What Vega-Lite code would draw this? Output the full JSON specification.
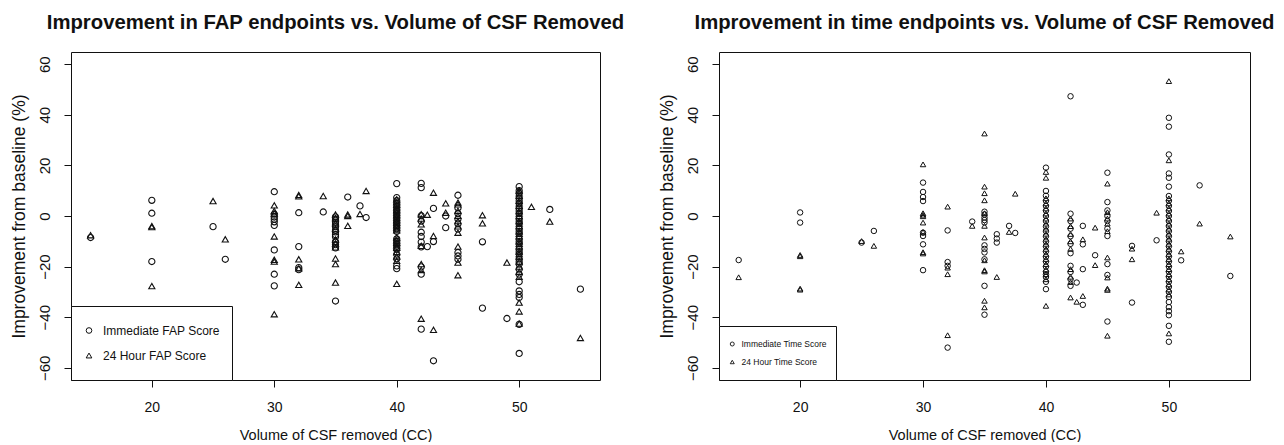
{
"$schema": "https://vega.github.io/schema/vega-lite/v6.json",
"padding": {"left": 9, "top": 12, "right": 0, "bottom": 0},
"spacing": 32,
"config": {
 "font": "Liberation Sans",
 "view": {"stroke": "#111", "strokeWidth": 1},
 "axis": {"grid": false, "domain": false, "tickColor": "#111", "tickSize": 7, "labelColor": "#111", "titleColor": "#111", "titleFontWeight": "normal"},
 "title": {"fontSize": 20.3, "fontWeight": "bold", "anchor": "middle", "color": "#111", "offset": 19}
},
"resolve": {"scale": {"shape": "independent"}, "legend": {"shape": "independent"}},
"datasets": {
"fap": [
{"x":15,"y":-8.5,"s":"I"},{"x":15,"y":-7.6,"s":"H"},
{"x":20,"y":6.2,"s":"I"},{"x":20,"y":1.1,"s":"I"},{"x":20,"y":-18,"s":"I"},{"x":20,"y":-4,"s":"H"},{"x":20,"y":-4.4,"s":"H"},{"x":20,"y":-27.7,"s":"H"},
{"x":25,"y":-4.2,"s":"I"},{"x":25,"y":5.9,"s":"H"},
{"x":26,"y":-17.1,"s":"I"},{"x":26,"y":-9.2,"s":"H"},
{"x":30,"y":9.6,"s":"I"},{"x":30,"y":0.7,"s":"I"},{"x":30,"y":-0.4,"s":"I"},{"x":30,"y":-1.3,"s":"I"},{"x":30,"y":-2.3,"s":"I"},{"x":30,"y":-3.7,"s":"I"},{"x":30,"y":-13.4,"s":"I"},{"x":30,"y":-23,"s":"I"},{"x":30,"y":-27.6,"s":"I"},
{"x":30,"y":4.2,"s":"H"},{"x":30,"y":2,"s":"H"},{"x":30,"y":1,"s":"H"},{"x":30,"y":-8.1,"s":"H"},{"x":30,"y":-17.3,"s":"H"},{"x":30,"y":-18,"s":"H"},{"x":30,"y":-38.8,"s":"H"},
{"x":32,"y":1.3,"s":"I"},{"x":32,"y":-12.1,"s":"I"},{"x":32,"y":-20.4,"s":"I"},{"x":32,"y":-21.2,"s":"I"},
{"x":32,"y":8.3,"s":"H"},{"x":32,"y":7.8,"s":"H"},{"x":32,"y":-17.1,"s":"H"},{"x":32,"y":-20.7,"s":"H"},{"x":32,"y":-27.2,"s":"H"},
{"x":34,"y":1.6,"s":"I"},{"x":34,"y":7.9,"s":"H"},
{"x":35,"y":-0.3,"s":"I"},{"x":35,"y":-1.2,"s":"I"},{"x":35,"y":-2.4,"s":"I"},{"x":35,"y":-3.3,"s":"I"},{"x":35,"y":-4.2,"s":"I"},{"x":35,"y":-5.6,"s":"I"},{"x":35,"y":-6.3,"s":"I"},{"x":35,"y":-7.4,"s":"I"},{"x":35,"y":-8.2,"s":"I"},{"x":35,"y":-10.1,"s":"I"},{"x":35,"y":-11.3,"s":"I"},{"x":35,"y":-12.6,"s":"I"},{"x":35,"y":-33.6,"s":"I"},
{"x":35,"y":0.6,"s":"H"},{"x":35,"y":-0.8,"s":"H"},{"x":35,"y":-2.8,"s":"H"},{"x":35,"y":-5,"s":"H"},{"x":35,"y":-9.3,"s":"H"},{"x":35,"y":-10.9,"s":"H"},{"x":35,"y":-12.4,"s":"H"},{"x":35,"y":-16.8,"s":"H"},{"x":35,"y":-19,"s":"H"},{"x":35,"y":-26.3,"s":"H"},
{"x":36,"y":7.5,"s":"I"},{"x":36,"y":0.6,"s":"H"},{"x":36,"y":0,"s":"H"},{"x":36,"y":-3.9,"s":"H"},
{"x":37,"y":4,"s":"I"},{"x":37,"y":0.8,"s":"H"},
{"x":37.5,"y":-0.6,"s":"I"},{"x":37.5,"y":9.9,"s":"H"},
{"x":40,"y":12.8,"s":"I"},{"x":40,"y":7.3,"s":"I"},{"x":40,"y":6.1,"s":"I"},{"x":40,"y":5,"s":"I"},{"x":40,"y":3.9,"s":"I"},{"x":40,"y":2.8,"s":"I"},{"x":40,"y":1.8,"s":"I"},{"x":40,"y":0.9,"s":"I"},{"x":40,"y":-0.2,"s":"I"},{"x":40,"y":-1.1,"s":"I"},{"x":40,"y":-2.2,"s":"I"},{"x":40,"y":-3.1,"s":"I"},{"x":40,"y":-4,"s":"I"},{"x":40,"y":-5,"s":"I"},{"x":40,"y":-6.1,"s":"I"},{"x":40,"y":-9,"s":"I"},{"x":40,"y":-10,"s":"I"},{"x":40,"y":-11.1,"s":"I"},{"x":40,"y":-12,"s":"I"},{"x":40,"y":-13.2,"s":"I"},{"x":40,"y":-15.1,"s":"I"},{"x":40,"y":-16.9,"s":"I"},{"x":40,"y":-19.7,"s":"I"},{"x":40,"y":-20.8,"s":"I"},
{"x":40,"y":6.6,"s":"H"},{"x":40,"y":5.5,"s":"H"},{"x":40,"y":4.4,"s":"H"},{"x":40,"y":3.4,"s":"H"},{"x":40,"y":2.4,"s":"H"},{"x":40,"y":1.4,"s":"H"},{"x":40,"y":0.4,"s":"H"},{"x":40,"y":-0.6,"s":"H"},{"x":40,"y":-1.6,"s":"H"},{"x":40,"y":-2.6,"s":"H"},{"x":40,"y":-3.6,"s":"H"},{"x":40,"y":-4.6,"s":"H"},{"x":40,"y":-5.6,"s":"H"},{"x":40,"y":-8.5,"s":"H"},{"x":40,"y":-9.6,"s":"H"},{"x":40,"y":-10.6,"s":"H"},{"x":40,"y":-11.6,"s":"H"},{"x":40,"y":-12.6,"s":"H"},{"x":40,"y":-14.2,"s":"H"},{"x":40,"y":-16,"s":"H"},{"x":40,"y":-17.7,"s":"H"},{"x":40,"y":-26.8,"s":"H"},
{"x":42,"y":12.9,"s":"I"},{"x":42,"y":11.2,"s":"I"},{"x":42,"y":0.1,"s":"I"},{"x":42,"y":-2,"s":"I"},{"x":42,"y":-6.4,"s":"I"},{"x":42,"y":-8.1,"s":"I"},{"x":42,"y":-10.3,"s":"I"},{"x":42,"y":-12.2,"s":"I"},{"x":42,"y":-20.1,"s":"I"},{"x":42,"y":-23,"s":"I"},{"x":42,"y":-44.7,"s":"I"},
{"x":42,"y":0.7,"s":"H"},{"x":42,"y":-1,"s":"H"},{"x":42,"y":-3.3,"s":"H"},{"x":42,"y":-11.8,"s":"H"},{"x":42,"y":-19,"s":"H"},{"x":42,"y":-21.3,"s":"H"},{"x":42,"y":-40.6,"s":"H"},
{"x":42.5,"y":-12.1,"s":"I"},{"x":42.5,"y":0.5,"s":"H"},
{"x":43,"y":3,"s":"I"},{"x":43,"y":-10.1,"s":"I"},{"x":43,"y":-57.2,"s":"I"},{"x":43,"y":9.2,"s":"H"},{"x":43,"y":-7.9,"s":"H"},{"x":43,"y":-45,"s":"H"},
{"x":44,"y":0,"s":"I"},{"x":44,"y":-4.6,"s":"I"},{"x":44,"y":5,"s":"H"},{"x":44,"y":1.3,"s":"H"},
{"x":45,"y":8.2,"s":"I"},{"x":45,"y":3.2,"s":"I"},{"x":45,"y":1,"s":"I"},{"x":45,"y":-1.2,"s":"I"},{"x":45,"y":-3.1,"s":"I"},{"x":45,"y":-5.2,"s":"I"},{"x":45,"y":-14.4,"s":"I"},{"x":45,"y":-15.8,"s":"I"},{"x":45,"y":-17.1,"s":"I"},
{"x":45,"y":5.3,"s":"H"},{"x":45,"y":4.6,"s":"H"},{"x":45,"y":2.1,"s":"H"},{"x":45,"y":0.1,"s":"H"},{"x":45,"y":-2,"s":"H"},{"x":45,"y":-4.1,"s":"H"},{"x":45,"y":-6.6,"s":"H"},{"x":45,"y":-12.1,"s":"H"},{"x":45,"y":-18.4,"s":"H"},{"x":45,"y":-23.4,"s":"H"},
{"x":47,"y":-10.2,"s":"I"},{"x":47,"y":-36.4,"s":"I"},{"x":47,"y":0.3,"s":"H"},{"x":47,"y":-2.9,"s":"H"},
{"x":49,"y":-40.5,"s":"I"},{"x":49,"y":-18.4,"s":"H"},
{"x":50,"y":11.6,"s":"I"},{"x":50,"y":10,"s":"I"},{"x":50,"y":9,"s":"I"},{"x":50,"y":7.1,"s":"I"},{"x":50,"y":6,"s":"I"},{"x":50,"y":5,"s":"I"},{"x":50,"y":3.1,"s":"I"},{"x":50,"y":2,"s":"I"},{"x":50,"y":1,"s":"I"},{"x":50,"y":-1,"s":"I"},{"x":50,"y":-2.1,"s":"I"},{"x":50,"y":-3,"s":"I"},{"x":50,"y":-5,"s":"I"},{"x":50,"y":-6.1,"s":"I"},{"x":50,"y":-7,"s":"I"},{"x":50,"y":-9,"s":"I"},{"x":50,"y":-10.1,"s":"I"},{"x":50,"y":-11,"s":"I"},{"x":50,"y":-13,"s":"I"},{"x":50,"y":-14.1,"s":"I"},{"x":50,"y":-15,"s":"I"},{"x":50,"y":-17,"s":"I"},{"x":50,"y":-18.1,"s":"I"},{"x":50,"y":-19,"s":"I"},{"x":50,"y":-21,"s":"I"},{"x":50,"y":-23,"s":"I"},{"x":50,"y":-26,"s":"I"},{"x":50,"y":-29.6,"s":"I"},{"x":50,"y":-31,"s":"I"},{"x":50,"y":-32.2,"s":"I"},{"x":50,"y":-42.8,"s":"I"},{"x":50,"y":-54.3,"s":"I"},
{"x":50,"y":10.1,"s":"H"},{"x":50,"y":9,"s":"H"},{"x":50,"y":8,"s":"H"},{"x":50,"y":6,"s":"H"},{"x":50,"y":5,"s":"H"},{"x":50,"y":4,"s":"H"},{"x":50,"y":2,"s":"H"},{"x":50,"y":1,"s":"H"},{"x":50,"y":0,"s":"H"},{"x":50,"y":-2,"s":"H"},{"x":50,"y":-3,"s":"H"},{"x":50,"y":-4,"s":"H"},{"x":50,"y":-6,"s":"H"},{"x":50,"y":-7,"s":"H"},{"x":50,"y":-8,"s":"H"},{"x":50,"y":-10,"s":"H"},{"x":50,"y":-11,"s":"H"},{"x":50,"y":-12,"s":"H"},{"x":50,"y":-14,"s":"H"},{"x":50,"y":-15,"s":"H"},{"x":50,"y":-16,"s":"H"},{"x":50,"y":-18,"s":"H"},{"x":50,"y":-20,"s":"H"},{"x":50,"y":-22,"s":"H"},{"x":50,"y":-24,"s":"H"},{"x":50,"y":-34.2,"s":"H"},{"x":50,"y":-37.7,"s":"H"},{"x":50,"y":-42.5,"s":"H"},
{"x":51,"y":3.6,"s":"H"},
{"x":52.5,"y":2.6,"s":"I"},{"x":52.5,"y":-2.2,"s":"H"},
{"x":55,"y":-28.9,"s":"I"},{"x":55,"y":-48.2,"s":"H"}
],
"time": [
{"x":15,"y":-17.4,"s":"I"},{"x":15,"y":-24.2,"s":"H"},
{"x":20,"y":1.4,"s":"I"},{"x":20,"y":-2.6,"s":"I"},{"x":20,"y":-15.4,"s":"H"},{"x":20,"y":-15.9,"s":"H"},{"x":20,"y":-28.7,"s":"H"},{"x":20,"y":-29.1,"s":"H"},
{"x":25,"y":-10.5,"s":"I"},{"x":25,"y":-9.9,"s":"H"},
{"x":26,"y":-5.9,"s":"I"},{"x":26,"y":-11.8,"s":"H"},
{"x":30,"y":13.2,"s":"I"},{"x":30,"y":9.5,"s":"I"},{"x":30,"y":7.5,"s":"I"},{"x":30,"y":5.9,"s":"I"},{"x":30,"y":-6.6,"s":"I"},{"x":30,"y":-7.9,"s":"I"},{"x":30,"y":-11.2,"s":"I"},{"x":30,"y":-21.4,"s":"I"},
{"x":30,"y":20.4,"s":"H"},{"x":30,"y":1.1,"s":"H"},{"x":30,"y":0.5,"s":"H"},{"x":30,"y":-0.1,"s":"H"},{"x":30,"y":-2.6,"s":"H"},{"x":30,"y":-6.3,"s":"H"},{"x":30,"y":-14.3,"s":"H"},{"x":30,"y":-14.8,"s":"H"},
{"x":32,"y":-5.7,"s":"I"},{"x":32,"y":-18.2,"s":"I"},{"x":32,"y":-19.7,"s":"I"},{"x":32,"y":-52,"s":"I"},{"x":32,"y":3.7,"s":"H"},{"x":32,"y":-20.4,"s":"H"},{"x":32,"y":-23,"s":"H"},{"x":32,"y":-47.1,"s":"H"},
{"x":34,"y":-2.2,"s":"I"},{"x":34,"y":-3.9,"s":"H"},
{"x":35,"y":1.7,"s":"I"},{"x":35,"y":0.6,"s":"I"},{"x":35,"y":-0.6,"s":"I"},{"x":35,"y":-1.6,"s":"I"},{"x":35,"y":-2.6,"s":"I"},{"x":35,"y":-11.6,"s":"I"},{"x":35,"y":-13,"s":"I"},{"x":35,"y":-14.4,"s":"I"},{"x":35,"y":-17.1,"s":"I"},{"x":35,"y":-27.6,"s":"I"},{"x":35,"y":-39,"s":"I"},
{"x":35,"y":32.6,"s":"H"},{"x":35,"y":11.6,"s":"H"},{"x":35,"y":9,"s":"H"},{"x":35,"y":6.2,"s":"H"},{"x":35,"y":1.1,"s":"H"},{"x":35,"y":-3.9,"s":"H"},{"x":35,"y":-8.5,"s":"H"},{"x":35,"y":-17.5,"s":"H"},{"x":35,"y":-21.4,"s":"H"},{"x":35,"y":-21.9,"s":"H"},{"x":35,"y":-33.5,"s":"H"},{"x":35,"y":-36.1,"s":"H"},
{"x":36,"y":-7.2,"s":"I"},{"x":36,"y":-8.9,"s":"I"},{"x":36,"y":-10.5,"s":"I"},{"x":36,"y":-24.1,"s":"H"},
{"x":37,"y":-3.9,"s":"I"},{"x":37,"y":-6.3,"s":"H"},
{"x":37.5,"y":-6.7,"s":"I"},{"x":37.5,"y":8.8,"s":"H"},
{"x":40,"y":19.1,"s":"I"},{"x":40,"y":9.9,"s":"I"},{"x":40,"y":8,"s":"I"},{"x":40,"y":6,"s":"I"},{"x":40,"y":4,"s":"I"},{"x":40,"y":2.1,"s":"I"},{"x":40,"y":0,"s":"I"},{"x":40,"y":-2,"s":"I"},{"x":40,"y":-4.1,"s":"I"},{"x":40,"y":-6,"s":"I"},{"x":40,"y":-8,"s":"I"},{"x":40,"y":-10.1,"s":"I"},{"x":40,"y":-12,"s":"I"},{"x":40,"y":-14,"s":"I"},{"x":40,"y":-16.1,"s":"I"},{"x":40,"y":-18,"s":"I"},{"x":40,"y":-20,"s":"I"},{"x":40,"y":-22,"s":"I"},{"x":40,"y":-23.1,"s":"I"},{"x":40,"y":-24.1,"s":"I"},{"x":40,"y":-26,"s":"I"},{"x":40,"y":-28.9,"s":"I"},
{"x":40,"y":17.4,"s":"H"},{"x":40,"y":15.1,"s":"H"},{"x":40,"y":7,"s":"H"},{"x":40,"y":5,"s":"H"},{"x":40,"y":3,"s":"H"},{"x":40,"y":1,"s":"H"},{"x":40,"y":-1,"s":"H"},{"x":40,"y":-3,"s":"H"},{"x":40,"y":-5,"s":"H"},{"x":40,"y":-7,"s":"H"},{"x":40,"y":-9,"s":"H"},{"x":40,"y":-11,"s":"H"},{"x":40,"y":-13,"s":"H"},{"x":40,"y":-15,"s":"H"},{"x":40,"y":-17,"s":"H"},{"x":40,"y":-19,"s":"H"},{"x":40,"y":-21.1,"s":"H"},{"x":40,"y":-23,"s":"H"},{"x":40,"y":-25,"s":"H"},{"x":40,"y":-35.5,"s":"H"},
{"x":42,"y":47.3,"s":"I"},{"x":42,"y":0.9,"s":"I"},{"x":42,"y":-2,"s":"I"},{"x":42,"y":-5,"s":"I"},{"x":42,"y":-8,"s":"I"},{"x":42,"y":-11,"s":"I"},{"x":42,"y":-14.7,"s":"I"},{"x":42,"y":-19.7,"s":"I"},{"x":42,"y":-22.1,"s":"I"},{"x":42,"y":-25,"s":"I"},{"x":42,"y":-27.6,"s":"I"},
{"x":42,"y":-1,"s":"H"},{"x":42,"y":-4,"s":"H"},{"x":42,"y":-7.1,"s":"H"},{"x":42,"y":-10,"s":"H"},{"x":42,"y":-13,"s":"H"},{"x":42,"y":-21,"s":"H"},{"x":42,"y":-24,"s":"H"},{"x":42,"y":-26.1,"s":"H"},{"x":42,"y":-32.2,"s":"H"},
{"x":42.5,"y":-26.3,"s":"I"},{"x":42.5,"y":-33.9,"s":"H"},
{"x":43,"y":-3.9,"s":"I"},{"x":43,"y":-11.2,"s":"I"},{"x":43,"y":-21,"s":"I"},{"x":43,"y":-35.1,"s":"I"},{"x":43,"y":-9.2,"s":"H"},{"x":43,"y":-31.6,"s":"H"},
{"x":44,"y":-15.5,"s":"I"},{"x":44,"y":-4.6,"s":"H"},{"x":44,"y":-19.4,"s":"H"},
{"x":45,"y":17.1,"s":"I"},{"x":45,"y":5.5,"s":"I"},{"x":45,"y":2.2,"s":"I"},{"x":45,"y":0,"s":"I"},{"x":45,"y":-2,"s":"I"},{"x":45,"y":-5,"s":"I"},{"x":45,"y":-7.9,"s":"I"},{"x":45,"y":-19,"s":"I"},{"x":45,"y":-23.3,"s":"I"},{"x":45,"y":-41.7,"s":"I"},
{"x":45,"y":12.8,"s":"H"},{"x":45,"y":1.5,"s":"H"},{"x":45,"y":-1,"s":"H"},{"x":45,"y":-3,"s":"H"},{"x":45,"y":-6,"s":"H"},{"x":45,"y":-16.4,"s":"H"},{"x":45,"y":-24.3,"s":"H"},{"x":45,"y":-28.7,"s":"H"},{"x":45,"y":-29.2,"s":"H"},{"x":45,"y":-47.3,"s":"H"},
{"x":47,"y":-11.8,"s":"I"},{"x":47,"y":-34.2,"s":"I"},{"x":47,"y":-12.9,"s":"H"},{"x":47,"y":-17.1,"s":"H"},
{"x":49,"y":-9.6,"s":"I"},{"x":49,"y":1.3,"s":"H"},
{"x":50,"y":38.8,"s":"I"},{"x":50,"y":35.3,"s":"I"},{"x":50,"y":24.3,"s":"I"},{"x":50,"y":16.8,"s":"I"},{"x":50,"y":15.1,"s":"I"},{"x":50,"y":11.6,"s":"I"},{"x":50,"y":7.9,"s":"I"},{"x":50,"y":6,"s":"I"},{"x":50,"y":4,"s":"I"},{"x":50,"y":2,"s":"I"},{"x":50,"y":0,"s":"I"},{"x":50,"y":-2,"s":"I"},{"x":50,"y":-4,"s":"I"},{"x":50,"y":-6,"s":"I"},{"x":50,"y":-8,"s":"I"},{"x":50,"y":-10,"s":"I"},{"x":50,"y":-12,"s":"I"},{"x":50,"y":-14,"s":"I"},{"x":50,"y":-16,"s":"I"},{"x":50,"y":-18,"s":"I"},{"x":50,"y":-20,"s":"I"},{"x":50,"y":-22,"s":"I"},{"x":50,"y":-24,"s":"I"},{"x":50,"y":-26,"s":"I"},{"x":50,"y":-28,"s":"I"},{"x":50,"y":-30,"s":"I"},{"x":50,"y":-32,"s":"I"},{"x":50,"y":-34,"s":"I"},{"x":50,"y":-36,"s":"I"},{"x":50,"y":-37.6,"s":"I"},{"x":50,"y":-39.2,"s":"I"},{"x":50,"y":-43.4,"s":"I"},{"x":50,"y":-49.7,"s":"I"},
{"x":50,"y":53.3,"s":"H"},{"x":50,"y":22,"s":"H"},{"x":50,"y":7,"s":"H"},{"x":50,"y":5,"s":"H"},{"x":50,"y":3,"s":"H"},{"x":50,"y":1,"s":"H"},{"x":50,"y":-1,"s":"H"},{"x":50,"y":-3,"s":"H"},{"x":50,"y":-5,"s":"H"},{"x":50,"y":-7,"s":"H"},{"x":50,"y":-9,"s":"H"},{"x":50,"y":-11,"s":"H"},{"x":50,"y":-13,"s":"H"},{"x":50,"y":-15,"s":"H"},{"x":50,"y":-17,"s":"H"},{"x":50,"y":-19,"s":"H"},{"x":50,"y":-21,"s":"H"},{"x":50,"y":-23,"s":"H"},{"x":50,"y":-25,"s":"H"},{"x":50,"y":-27,"s":"H"},{"x":50,"y":-29,"s":"H"},{"x":50,"y":-31,"s":"H"},{"x":50,"y":-46.4,"s":"H"},
{"x":51,"y":-17.5,"s":"I"},{"x":51,"y":-14,"s":"H"},
{"x":52.5,"y":12.1,"s":"I"},{"x":52.5,"y":-3,"s":"H"},
{"x":55,"y":-23.7,"s":"I"},{"x":55,"y":-8.1,"s":"H"}
]
},
"hconcat": [
{
 "width": 529, "height": 328,
 "title": "Improvement in FAP endpoints vs. Volume of CSF Removed",
 "data": {"name": "fap"},
 "mark": {"type": "point", "filled": false, "stroke": "#111", "strokeWidth": 1.1, "size": 38, "opacity": 1},
 "encoding": {
  "x": {"field": "x", "type": "quantitative", "scale": {"domain": [13.4, 56.6], "nice": false, "zero": false},
        "axis": {"values": [20, 30, 40, 50], "title": "Volume of CSF removed (CC)", "labelFontSize": 14, "titleFontSize": 14.5, "labelPadding": 13, "titlePadding": 14}},
  "y": {"field": "y", "type": "quantitative", "scale": {"domain": [-64.8, 64.8], "nice": false},
        "axis": {"values": [-60, -40, -20, 0, 20, 40, 60], "title": "Improvement from baseline (%)", "labelAngle": -90, "labelAlign": "center", "labelBaseline": "bottom", "labelFontSize": 15, "labelPadding": 12, "titleFontSize": 17.5, "titlePadding": 9}},
  "shape": {"field": "s", "type": "nominal", "scale": {"domain": ["I", "H"], "range": ["circle", "triangle-up"]},
        "legend": {"title": null, "orient": "bottom-left", "offset": 0, "padding": 12, "strokeColor": "#111", "fillColor": "white", "cornerRadius": 0,
                   "labelFontSize": 12, "labelColor": "#111", "labelOffset": 8, "rowPadding": 0, "clipHeight": 25, "symbolSize": 32, "symbolStrokeColor": "#111", "symbolFillColor": "transparent", "symbolStrokeWidth": 1,
                   "labelExpr": "datum.value == 'I' ? 'Immediate FAP Score' : '24 Hour FAP Score'"}}
 }
},
{
 "width": 531, "height": 328,
 "title": "Improvement in time endpoints vs. Volume of CSF Removed",
 "data": {"name": "time"},
 "mark": {"type": "point", "filled": false, "stroke": "#111", "strokeWidth": 1, "size": 30, "opacity": 1},
 "encoding": {
  "x": {"field": "x", "type": "quantitative", "scale": {"domain": [13.4, 56.6], "nice": false, "zero": false},
        "axis": {"values": [20, 30, 40, 50], "title": "Volume of CSF removed (CC)", "labelFontSize": 14, "titleFontSize": 14.5, "labelPadding": 13, "titlePadding": 14}},
  "y": {"field": "y", "type": "quantitative", "scale": {"domain": [-64.8, 64.8], "nice": false},
        "axis": {"values": [-60, -40, -20, 0, 20, 40, 60], "title": "Improvement from baseline (%)", "labelAngle": -90, "labelAlign": "center", "labelBaseline": "bottom", "labelFontSize": 15, "labelPadding": 12, "titleFontSize": 17.5, "titlePadding": 9}},
  "shape": {"field": "s", "type": "nominal", "scale": {"domain": ["I", "H"], "range": ["circle", "triangle-up"]},
        "legend": {"title": null, "orient": "bottom-left", "offset": 0, "padding": 9, "strokeColor": "#111", "fillColor": "white", "cornerRadius": 0,
                   "labelFontSize": 8.5, "labelColor": "#111", "labelOffset": 5, "rowPadding": 0, "clipHeight": 18, "symbolSize": 16, "symbolStrokeColor": "#111", "symbolFillColor": "transparent", "symbolStrokeWidth": 0.9,
                   "labelExpr": "datum.value == 'I' ? 'Immediate Time Score' : '24 Hour Time Score'"}}
 }
}
]
}
